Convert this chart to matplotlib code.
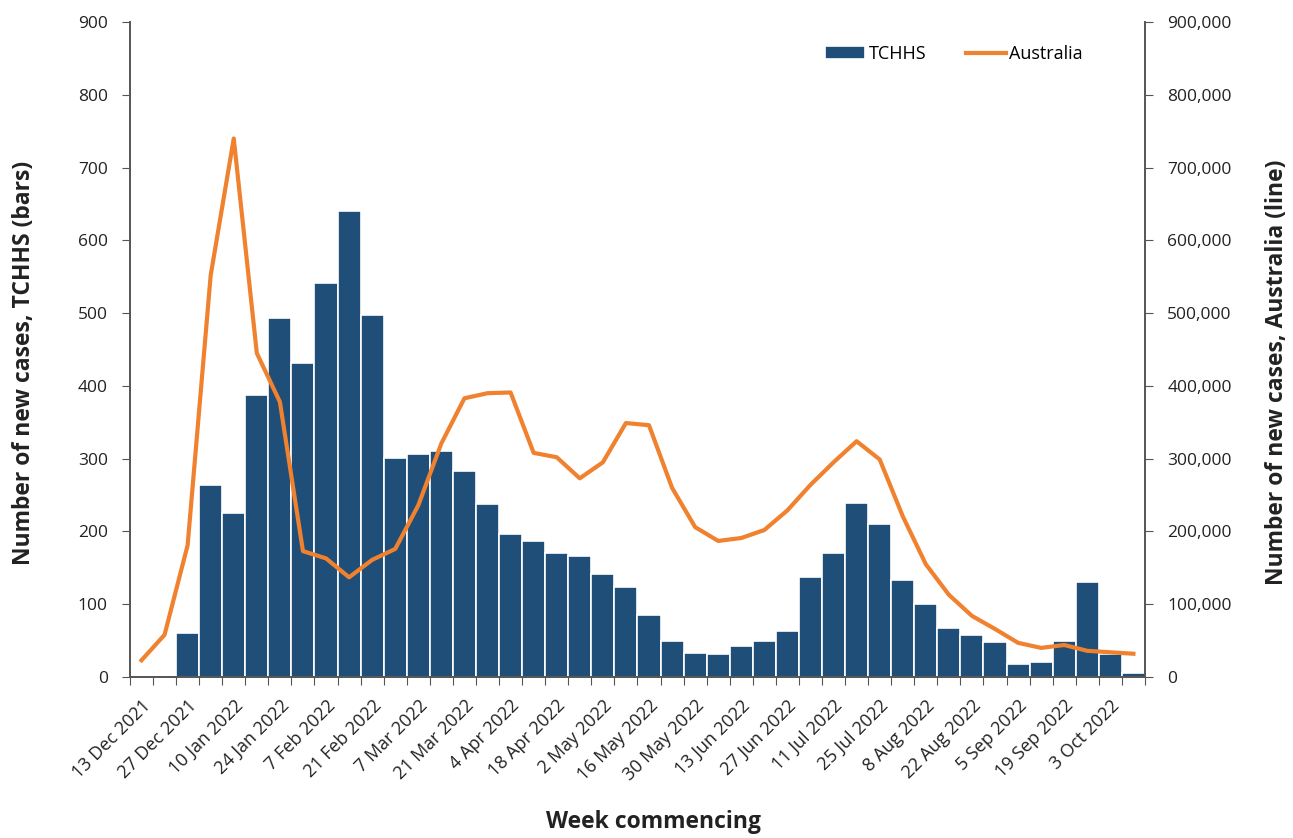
import numpy as np
import matplotlib
matplotlib.use("Agg")
import matplotlib.pyplot as plt
from matplotlib.ticker import FuncFormatter, MultipleLocator

plt.rcParams["font.family"] = ["Open Sans", "DejaVu Sans"]

weeks = ["13 Dec 2021", "20 Dec 2021", "27 Dec 2021", "3 Jan 2022", "10 Jan 2022",
         "17 Jan 2022", "24 Jan 2022", "31 Jan 2022", "7 Feb 2022", "14 Feb 2022",
         "21 Feb 2022", "28 Feb 2022", "7 Mar 2022", "14 Mar 2022", "21 Mar 2022",
         "28 Mar 2022", "4 Apr 2022", "11 Apr 2022", "18 Apr 2022", "25 Apr 2022",
         "2 May 2022", "9 May 2022", "16 May 2022", "23 May 2022", "30 May 2022",
         "6 Jun 2022", "13 Jun 2022", "20 Jun 2022", "27 Jun 2022", "4 Jul 2022",
         "11 Jul 2022", "18 Jul 2022", "25 Jul 2022", "1 Aug 2022", "8 Aug 2022",
         "15 Aug 2022", "22 Aug 2022", "29 Aug 2022", "5 Sep 2022", "12 Sep 2022",
         "19 Sep 2022", "26 Sep 2022", "3 Oct 2022", "10 Oct 2022"]

tchhs = [0, 0, 60, 264, 226, 387, 493, 431, 541, 641,
         498, 301, 306, 311, 283, 238, 197, 187, 171, 166,
         142, 124, 85, 49, 33, 31, 42, 50, 63, 138,
         171, 239, 210, 133, 101, 67, 58, 48, 18, 20,
         50, 130, 32, 6]

australia = [23000, 58000, 181000, 552000, 740000, 445000, 378000, 173000, 163000, 137000,
             161000, 176000, 236000, 321000, 383000, 390000, 391000, 308000, 302000, 273000,
             295000, 349000, 346000, 260000, 206000, 187000, 191000, 202000, 229000, 264000,
             295000, 324000, 299000, 221000, 155000, 113000, 84000, 66000, 47000, 40000,
             44000, 36000, 34000, 32000]

BAR_COLOR = "#1F4E79"
LINE_COLOR = "#F0812E"
TEXT_COLOR = "#222222"

fig = plt.figure(figsize=(12.93, 8.38), dpi=100)
ax = fig.add_axes([0.1005, 0.1921, 0.785, 0.7816])
ax2 = ax.twinx()

x = np.arange(len(weeks))
heights = np.array(tchhs, dtype=float)
ax.bar(x[heights > 0], heights[heights > 0], width=1.0, color=BAR_COLOR,
       edgecolor="white", linewidth=1.2, label="TCHHS", zorder=2)
ax2.plot(x, australia, color=LINE_COLOR, linewidth=3, label="Australia",
         solid_joinstyle="round", zorder=3)

ax.set_xlim(-0.5, len(weeks) - 0.5)
ax.set_ylim(0, 900)
ax2.set_ylim(0, 900000)
ax.yaxis.set_major_locator(MultipleLocator(100))
ax2.yaxis.set_major_locator(MultipleLocator(100000))
ax2.yaxis.set_major_formatter(FuncFormatter(lambda v, p: f"{int(v):,}"))

# ticks at category boundaries, labels every second week
ax.set_xticks(np.arange(-0.5, len(weeks), 1.0))
ax.set_xticklabels([])
ax.set_xticks(x[::2], minor=True)
ax.set_xticklabels(weeks[::2], minor=True, rotation=45, ha="right",
                   rotation_mode="anchor", fontsize=13, color=TEXT_COLOR)
ax.tick_params(axis="x", which="minor", length=0, pad=14)
ax.tick_params(axis="x", which="major", direction="out", length=6, color="#555555")

for a in (ax, ax2):
    a.spines["top"].set_visible(False)
    for s in ("left", "right", "bottom"):
        a.spines[s].set_color("#555555")
        a.spines[s].set_linewidth(1.2)
    a.tick_params(axis="y", direction="out", length=6, color="#555555",
                  labelsize=12.5, labelcolor=TEXT_COLOR)
ax.tick_params(axis="y", pad=10)
ax2.tick_params(axis="y", pad=10)

ax.set_ylabel("Number of new cases, TCHHS (bars)", fontsize=16.5, fontweight="bold",
              color=TEXT_COLOR)
ax2.set_ylabel("Number of new cases, Australia (line)", fontsize=16.5, fontweight="bold",
               color=TEXT_COLOR, rotation=90)
ax.set_xlabel("Week commencing", fontsize=16.5, fontweight="bold", color=TEXT_COLOR)
ax.yaxis.set_label_coords(-0.093, 0.48)
ax2.yaxis.set_label_coords(1.118, 0.465)
ax.xaxis.set_label_coords(0.516, -0.203)

h1, l1 = ax.get_legend_handles_labels()
h2, l2 = ax2.get_legend_handles_labels()
ax.legend(h1 + h2, l1 + l2, loc="upper right", bbox_to_anchor=(0.955, 0.99),
          ncol=2, frameon=False, fontsize=13, handlelength=2.2, columnspacing=2.2,
          handletextpad=0.2)

fig.savefig("out.png", dpi=100)
